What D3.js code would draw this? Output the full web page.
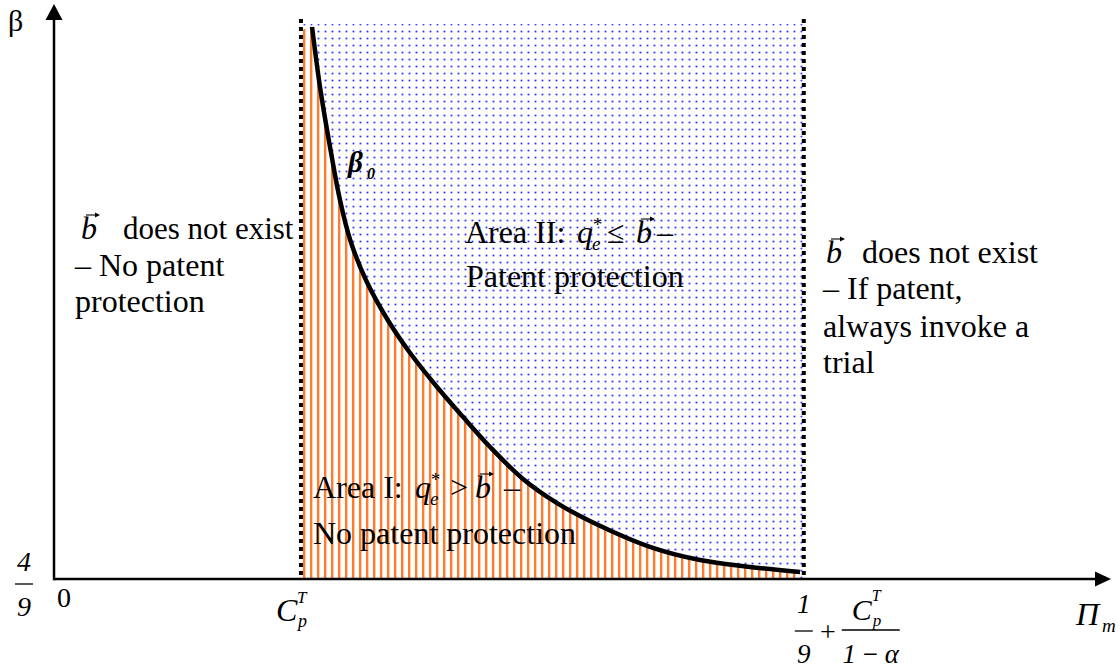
<!DOCTYPE html>
<html>
<head>
<meta charset="utf-8">
<script src="https://cdn.jsdelivr.net/npm/d3@7"></script>
<style>
  html, body { margin: 0; padding: 0; background: #fff; }
  svg { display: block; }
</style>
</head>
<body>
<div id="chart"></div>
<script>
// ---- data (abstract units) ----
const piMax = 4.28;          // end of the Π_m axis
const betaMax = 1.0;         // end of the β axis
const cpT = 1.0;             // position of C_p^T on Π_m axis
const upperBound = 3.036;    // position of 1/9 + C_p^T/(1-α)
const regionTop = 0.965;     // top of shaded regions
const dividerTop = 0.974;    // top of dotted dividers

// β0 curve
const curvePi   = [1.045, 1.077, 1.122, 1.158, 1.199, 1.263, 1.352, 1.442, 1.551, 1.656, 1.765, 1.899, 2.037, 2.170, 2.413, 2.616, 2.818, 3.021];
const curveBeta = [0.960, 0.856, 0.741, 0.659, 0.590, 0.520, 0.450, 0.393, 0.334, 0.282, 0.230, 0.174, 0.132, 0.101, 0.056, 0.033, 0.021, 0.012];

// text labels
const leftLabel  = ["does not exist", "– No patent", "protection"];
const rightLabel = ["does not exist", "– If patent,", "always invoke a", "trial"];
const area1Lines = ["Area I:", "No patent protection"];
const area2Lines = ["Area II:", "Patent protection"];

// ---- drawing ----
const W = 1120, H = 670;
const SERIF = "'Liberation Serif', 'Times New Roman', serif";
const svg = d3.select("#chart").append("svg").attr("width", W).attr("height", H)
  .attr("font-family", SERIF);

const x = d3.scaleLinear().domain([0, piMax]).range([54, 1111]);
const y = d3.scaleLinear().domain([0, betaMax]).range([579, 4]);

const defs = svg.append("defs");
const stripes = defs.append("pattern").attr("id", "stripes")
  .attr("patternUnits", "userSpaceOnUse").attr("width", 7).attr("height", 10)
  .attr("x", x(cpT) + 2);
stripes.append("rect").attr("width", 7).attr("height", 10).attr("fill", "#fff");
stripes.append("rect").attr("x", 0).attr("width", 2.4).attr("height", 10).attr("fill", "#ff7a2a");

const dots = defs.append("pattern").attr("id", "dots")
  .attr("patternUnits", "userSpaceOnUse").attr("width", 7).attr("height", 7)
  .attr("x", x(cpT)).attr("y", 0);
dots.append("rect").attr("width", 7).attr("height", 7).attr("fill", "#fff");
dots.append("circle").attr("cx", 3.5).attr("cy", 3.5).attr("r", 1.4).attr("fill", "#cfcfff");
dots.append("circle").attr("cx", 3.5).attr("cy", 3.5).attr("r", 0.85).attr("fill", "#2a2aff");

// blue dotted region (Area II)
svg.append("rect")
  .attr("x", x(cpT) + 1).attr("y", y(regionTop))
  .attr("width", x(upperBound) - x(cpT) - 2).attr("height", y(0) - y(regionTop))
  .attr("fill", "url(#dots)");

// orange striped region (Area I): under the curve
const curvePts = curvePi.map((p, i) => [p, curveBeta[i]]);
const areaGen = d3.area().x(d => x(d[0])).y0(y(0)).y1(d => y(d[1])).curve(d3.curveCatmullRom.alpha(0.5));
const areaPts = [[cpT + 0.008, 0.955]].concat(curvePts);
svg.append("path").datum(areaPts).attr("d", areaGen).attr("fill", "url(#stripes)");

// curve β0
const lineGen = d3.line().x(d => x(d[0])).y(d => y(d[1])).curve(d3.curveCatmullRom.alpha(0.5));
svg.append("path").datum(curvePts).attr("d", lineGen)
  .attr("fill", "none").attr("stroke", "#000").attr("stroke-width", 4.5).attr("stroke-linecap", "butt");

// dotted dividers
[cpT, upperBound].forEach(v => {
  svg.append("line").attr("x1", x(v)).attr("x2", x(v)).attr("y1", y(dividerTop)).attr("y2", y(0))
    .attr("stroke", "#000").attr("stroke-width", 4).attr("stroke-dasharray", "4 4");
});

// axes
svg.append("line").attr("x1", x(0)).attr("x2", x(piMax) - 16).attr("y1", y(0)).attr("y2", y(0))
  .attr("stroke", "#000").attr("stroke-width", 2.5);
svg.append("line").attr("x1", x(0)).attr("x2", x(0)).attr("y1", y(0) + 1.2).attr("y2", y(betaMax) + 14)
  .attr("stroke", "#000").attr("stroke-width", 2.5);
svg.append("path").attr("d", `M${x(piMax)},${y(0)} L${x(piMax) - 16},${y(0) - 7.5} L${x(piMax) - 16},${y(0) + 7.5} Z`).attr("fill", "#000");
svg.append("path").attr("d", `M${x(0)},${y(betaMax)} L${x(0) - 8.5},${y(betaMax) + 16} L${x(0) + 8.5},${y(betaMax) + 16} Z`).attr("fill", "#000");

// ---- text helpers ----
const FS = 32;
function txt(xp, yp, s, opts = {}) {
  const t = svg.append("text").attr("x", xp).attr("y", yp).text(s)
    .attr("font-family", SERIF)
    .attr("font-size", (opts.size || FS) + "px")
    .attr("fill", "#000");
  if (opts.italic) t.attr("font-style", "italic");
  if (opts.bold) t.attr("font-weight", "bold");
  if (opts.anchor) t.attr("text-anchor", opts.anchor);
  return t;
}
function vecArrow(x1, x2, yy) {
  svg.append("line").attr("x1", x1).attr("x2", x2 - 2).attr("y1", yy).attr("y2", yy)
    .attr("stroke", "#000").attr("stroke-width", 1.1);
  svg.append("path").attr("d", `M${x2},${yy} L${x2 - 5},${yy - 2.6} L${x2 - 5},${yy + 2.6} Z`).attr("fill", "#000");
}
function bvec(xp, yp) {
  txt(xp, yp, "b", { italic: true });
  vecArrow(xp + 5, xp + 19, yp - 24);
}
function qe(xp, yp) {
  txt(xp, yp, "q", { italic: true });
  txt(xp + 15, yp - 12, "*", { italic: true, size: 19 });
  txt(xp + 15, yp + 7, "e", { italic: true, size: 19 });
}

// axis titles
txt(8, 31, "β", { size: 30 });
txt(1076, 625, "Π", { italic: true, size: 32 });
txt(1102, 632, "m", { italic: true, size: 19 });

// y-axis tick 4/9
txt(24, 571, "4", { italic: true, size: 28, anchor: "middle" });
svg.append("line").attr("x1", 15).attr("x2", 33).attr("y1", 584).attr("y2", 584).attr("stroke", "#000").attr("stroke-width", 1.3);
txt(24, 616, "9", { italic: true, size: 28, anchor: "middle" });
txt(57, 607, "0", { size: 28 });

// x-axis tick C_p^T
const cx1 = x(cpT);
txt(cx1 - 25, 621, "C", { italic: true, size: 32 });
txt(cx1 - 4, 603, "T", { italic: true, size: 17 });
txt(cx1 - 3, 627, "p", { italic: true, size: 18 });

// x-axis tick 1/9 + C_p^T/(1-α)
const cx2 = x(upperBound);
txt(cx2 + 0, 613, "1", { italic: true, size: 27, anchor: "middle" });
svg.append("line").attr("x1", cx2 - 9).attr("x2", cx2 + 9).attr("y1", 631).attr("y2", 631).attr("stroke", "#000").attr("stroke-width", 1.3);
txt(cx2 + 0, 663, "9", { italic: true, size: 27, anchor: "middle" });
txt(cx2 + 24, 641, "+", { size: 28, anchor: "middle" });
svg.append("line").attr("x1", cx2 + 38).attr("x2", cx2 + 96).attr("y1", 630).attr("y2", 630).attr("stroke", "#000").attr("stroke-width", 1.3);
txt(cx2 + 48, 620, "C", { italic: true, size: 30 });
txt(cx2 + 68, 601, "T", { italic: true, size: 16 });
txt(cx2 + 69, 626, "p", { italic: true, size: 17 });
const den = txt(cx2 + 67, 663, "", { size: 27, anchor: "middle" });
den.append("tspan").attr("font-style", "italic").text("1");
den.append("tspan").text(" − ");
den.append("tspan").attr("font-style", "italic").text("α");

// β0 label
txt(348, 172, "β", { italic: true, bold: true, size: 29 });
txt(367, 179, "0", { italic: true, bold: true, size: 16 });

// left label
bvec(81, 239);
txt(123, 239, leftLabel[0], { size: 31 });
txt(75, 276, leftLabel[1]);
txt(75, 312, leftLabel[2]);

// right label
bvec(826, 263);
txt(862, 263, rightLabel[0]);
txt(823, 299, rightLabel[1]);
txt(823, 337, rightLabel[2]);
txt(823, 373, rightLabel[3]);

// Area II
txt(465, 243, area2Lines[0]);
qe(577, 243);
txt(607, 243, "≤");
bvec(636, 243);
txt(657, 243, "–");
txt(466, 287, area2Lines[1]);

// Area I
txt(313, 498, area1Lines[0]);
qe(415, 498);
txt(450, 498, ">");
bvec(475, 498);
txt(504, 498, "–");
txt(313, 544, area1Lines[1]);
</script>
</body>
</html>
